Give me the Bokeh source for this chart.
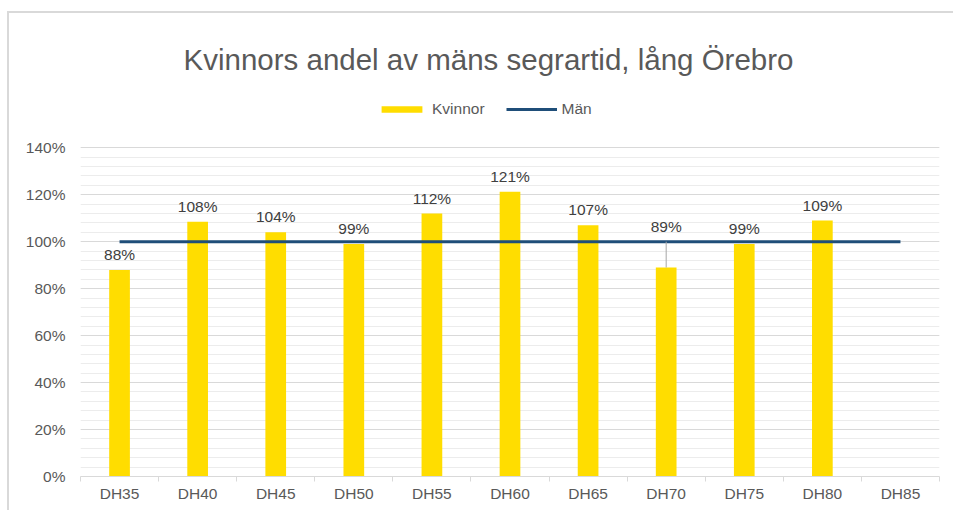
from bokeh.plotting import figure
from bokeh.models import (Range1d, FixedTicker, NumeralTickFormatter, Legend,
                          LegendItem, Label, ColumnDataSource)
from bokeh.core.properties import value
from bokeh.embed import file_html
from bokeh.resources import INLINE

# ---------------- data ----------------
categories = ["DH35", "DH40", "DH45", "DH50", "DH55", "DH60",
              "DH65", "DH70", "DH75", "DH80", "DH85"]
kvinnor_cats = ["DH35", "DH40", "DH45", "DH50", "DH55", "DH60",
                "DH65", "DH70", "DH75", "DH80"]
kvinnor = [0.88, 1.085, 1.04, 0.99, 1.12, 1.213, 1.07, 0.89, 0.99, 1.09]
kvinnor_labels = ["88%", "108%", "104%", "99%", "112%", "121%",
                  "107%", "89%", "99%", "109%"]
man = [1.0] * len(categories)
y_ticks = [0.0, 0.2, 0.4, 0.6, 0.8, 1.0, 1.2, 1.4]
y_minor = [round(i * 0.04, 2) for i in range(36)]
moved_label = "DH70"   # label lifted above the Män line, with a leader line

TITLE = "Kvinnors andel av mäns segrartid, lång Örebro"
FONT = "Liberation Sans"
TXT = "#595959"

# layout constants
Y_TOP = 1.972          # frame runs up to the canvas top; title & legend live there

pos = {c: i for i, c in enumerate(categories)}
kx = [pos[c] for c in kvinnor_cats]
mx = [pos[c] for c in categories]
label_y = [man[pos[c]] if c == moved_label else v for c, v in zip(kvinnor_cats, kvinnor)]

p = figure(width=946, height=499, output_backend="svg", toolbar_location=None,
           x_range=Range1d(-0.5, len(categories) - 0.5), y_range=Range1d(0, Y_TOP),
           min_border_left=71, min_border_right=16, min_border_top=0,
           min_border_bottom=36, outline_line_color=None,
           background_fill_color="white", border_fill_color="white",
           styles={"margin-left": "7px", "margin-top": "11px",
                   "border-left": "2px solid #d9d9d9",
                   "border-top": "2px solid #d9d9d9"})

# grid
p.xgrid.visible = False
p.ygrid.ticker = FixedTicker(ticks=y_ticks, minor_ticks=y_minor)
p.ygrid.grid_line_color = "#d9d9d9"
p.ygrid.minor_grid_line_color = "#ececec"

# bars
bsrc = ColumnDataSource(dict(x=kx, top=kvinnor, ly=label_y, lab=kvinnor_labels))
bars = p.vbar(x="x", top="top", width=0.265, bottom=0, source=bsrc,
              fill_color="#FFDD00", line_color=None)

# Män line
line = p.line(x=mx, y=man, line_color="#1F4E79", line_width=3)

# leader line for moved label
mi = kvinnor_cats.index(moved_label)
p.segment(x0=[kx[mi]], x1=[kx[mi]], y0=[kvinnor[mi]], y1=[label_y[mi]],
          line_color="#a6a6a6", line_width=1)

# data labels
p.text(x="x", y="ly", text="lab", source=bsrc, text_align="center",
       text_baseline="bottom", y_offset=-7, text_font=value(FONT),
       text_font_size=value("15.5px"), text_color="#404040")

# axes
xa = p.xaxis[0]
xa.ticker = FixedTicker(ticks=mx, minor_ticks=[i - 0.5 for i in range(len(categories) + 1)])
xa.major_label_overrides = {i: c for i, c in enumerate(categories)}
xa.major_tick_line_color = None
xa.major_tick_out = 0
xa.minor_tick_line_color = "#d9d9d9"
xa.minor_tick_in = 0
xa.minor_tick_out = 5
xa.axis_line_color = "#d9d9d9"
xa.major_label_text_font = FONT
xa.major_label_text_font_size = "15.5px"
xa.major_label_text_color = TXT
xa.major_label_standoff = 3

ya = p.yaxis[0]
ya.ticker = FixedTicker(ticks=y_ticks)
ya.formatter = NumeralTickFormatter(format="0%")
ya.axis_line_color = None
ya.major_tick_line_color = None
ya.minor_tick_line_color = None
ya.major_tick_out = 0
ya.major_label_standoff = 15
ya.major_label_text_font = FONT
ya.major_label_text_font_size = "15.5px"
ya.major_label_text_color = TXT

# title
p.add_layout(Label(x=408, x_units="screen", y=1.775, y_units="data", text=TITLE,
                   text_align="center", text_baseline="alphabetic",
                   text_font=FONT, text_font_size="29.5px", text_color=TXT))

# legend
legend = Legend(items=[LegendItem(label="Kvinnor", renderers=[bars]),
                       LegendItem(label="Män", renderers=[line])],
                location=(296, 357), orientation="horizontal",
                glyph_width=51, glyph_height=8, label_standoff=5, spacing=21,
                padding=0, margin=0, border_line_color=None,
                background_fill_alpha=0, label_text_font=FONT,
                label_text_font_size="15.5px", label_text_color=TXT,
                label_height=20)
p.add_layout(legend)

open("out.html", "w").write(file_html(p, INLINE))
